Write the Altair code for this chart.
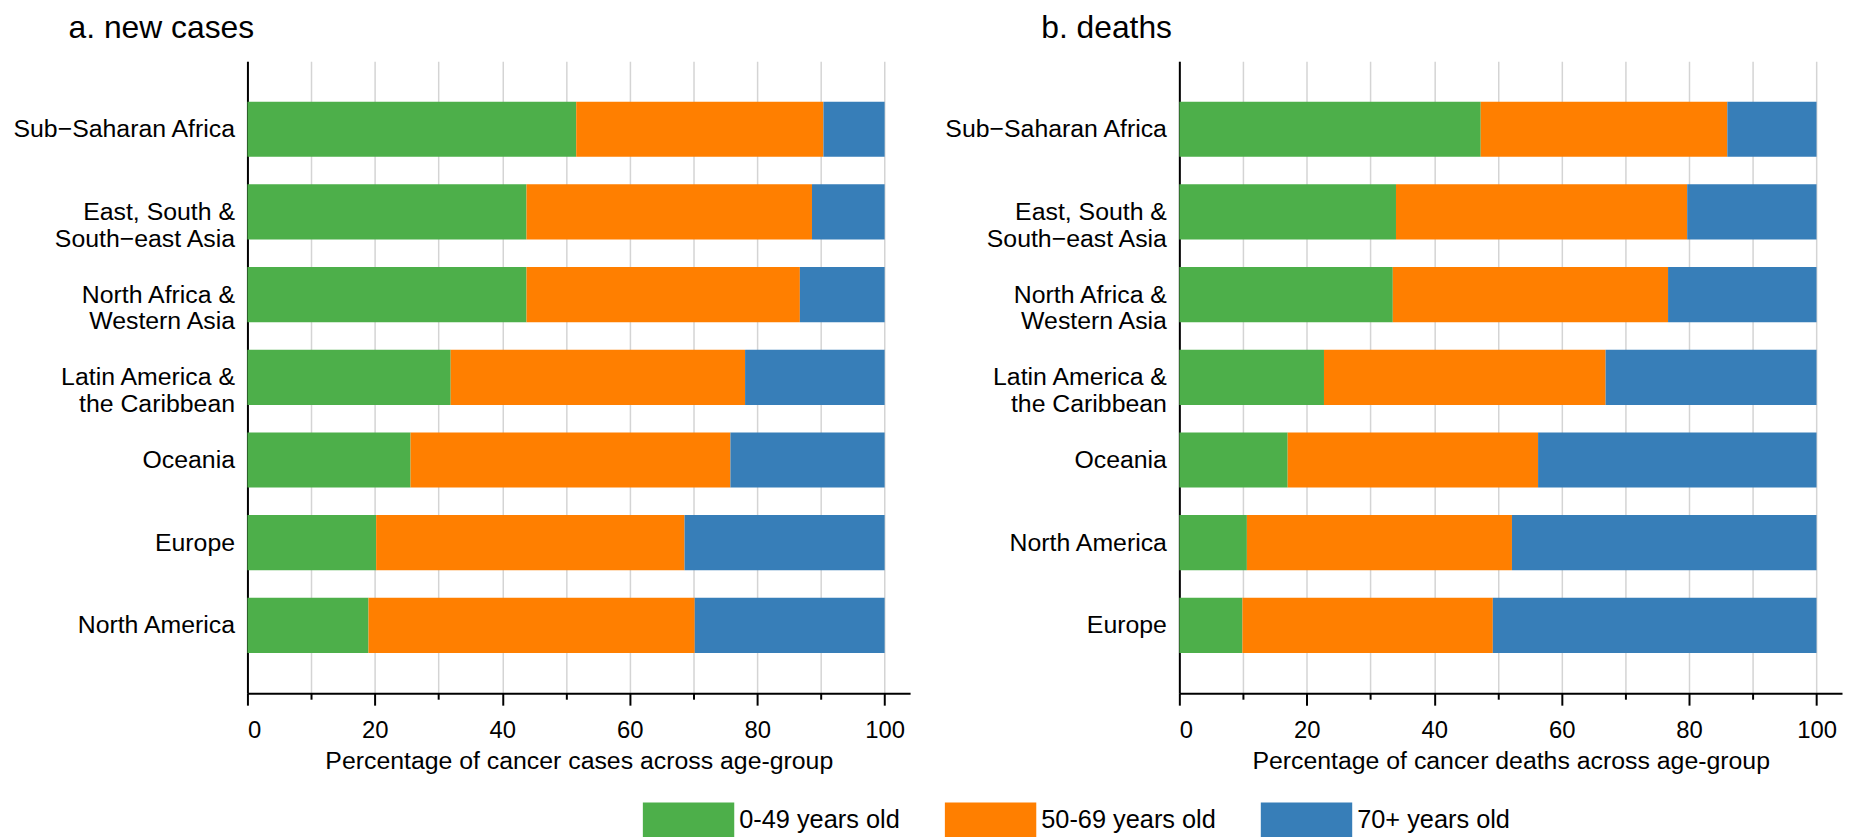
import altair as alt
import pandas as pd

FONT = "Liberation Sans"

groups = ["0-49 years old", "50-69 years old", "70+ years old"]
colors = ["#4daf4a", "#ff7f00", "#377eb8"]

cases_regions = ["Sub−Saharan Africa", "East, South &|South−east Asia", "North Africa &|Western Asia",
                 "Latin America &|the Caribbean", "Oceania", "Europe", "North America"]
cases_0_49 = [51.6, 43.8, 43.8, 31.9, 25.6, 20.2, 19.0]
cases_50_69 = [38.8, 44.8, 42.9, 46.2, 50.2, 48.4, 51.2]
cases_70p = [9.6, 11.4, 13.3, 21.9, 24.2, 31.4, 29.8]

deaths_regions = ["Sub−Saharan Africa", "East, South &|South−east Asia", "North Africa &|Western Asia",
                  "Latin America &|the Caribbean", "Oceania", "North America", "Europe"]
deaths_0_49 = [47.3, 34.0, 33.5, 22.7, 17.0, 10.6, 9.9]
deaths_50_69 = [38.7, 45.7, 43.2, 44.2, 39.3, 41.6, 39.3]
deaths_70p = [14.0, 20.3, 23.3, 33.1, 43.7, 47.8, 50.8]

x_ticks = [0, 10, 20, 30, 40, 50, 60, 70, 80, 90, 100]


def long_table(regions, series):
    rows = []
    for gi, (g, vals) in enumerate(zip(groups, series)):
        for r, v in zip(regions, vals):
            rows.append({"region": r, "group": g, "gidx": gi, "value": v})
    return pd.DataFrame(rows)


legend = alt.Legend(
    title=None, orient="none", legendX=398, legendY=746, direction="horizontal", columns=3,
    symbolType="M-1,-1L4.111,-1L4.111,1L-1,1Z", symbolSize=1296, symbolStrokeWidth=0,
    symbolOpacity=1, labelOffset=61, labelFontSize=25.5, labelFont=FONT, labelColor="black",
    labelLimit=400, columnPadding=45, padding=0,
)


def panel(df, order, title_text, title_dx, x_title):
    return alt.Chart(df).mark_bar().encode(
        x=alt.X("value:Q", stack="zero",
                scale=alt.Scale(domain=[0, 104], nice=False, zero=True),
                axis=alt.Axis(values=x_ticks, title=x_title,
                              labelExpr="datum.value % 20 === 0 ? datum.label : ''",
                              labelFont=FONT, labelFontSize=24, labelColor="black",
                              labelBaseline="alphabetic", labelPadding=33,
                              tickSize={"condition": {"test": "datum.value % 20 === 0", "value": 12}, "value": 6},
                              tickColor="black", tickWidth=2,
                              domainColor="black", domainWidth=2,
                              grid=True, gridColor="#d4d4d4", gridWidth=1.5,
                              titleFont=FONT, titleFontSize=25, titleFontWeight="normal",
                              titleColor="black", titlePadding=6)),
        y=alt.Y("region:N", sort=order,
                scale=alt.Scale(paddingInner=0.333, paddingOuter=0.487),
                axis=alt.Axis(title=None, labelExpr="split(datum.label, '|')",
                              labelFont=FONT, labelFontSize=25, labelColor="black",
                              labelLineHeight=27, labelPadding=13, labelLimit=400,
                              ticks=False, grid=False, domainColor="black", domainWidth=2,
                              minExtent=240, maxExtent=240)),
        color=alt.Color("group:N", scale=alt.Scale(domain=groups, range=colors), legend=legend),
        order=alt.Order("gidx:Q"),
    ).properties(
        width=667, height=636,
        title=alt.TitleParams(title_text, anchor="start", frame="group", dx=title_dx, offset=-8,
                              baseline="alphabetic", fontSize=32, font=FONT,
                              fontWeight="normal", color="black"),
    )


left = panel(long_table(cases_regions, [cases_0_49, cases_50_69, cases_70p]), cases_regions,
             "a. new cases", -180, "Percentage of cancer cases across age-group")
right = panel(long_table(deaths_regions, [deaths_0_49, deaths_50_69, deaths_70p]), deaths_regions,
              "b. deaths", -139, "Percentage of cancer deaths across age-group")

chart = alt.hconcat(left, right, spacing=29).resolve_scale(y="independent").properties(
    padding=0
).configure_view(stroke="transparent")

chart.save("out.html", embed_options={"renderer": "svg", "actions": False})
